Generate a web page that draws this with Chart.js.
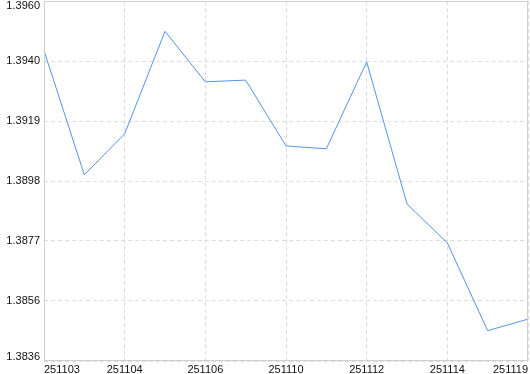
<!DOCTYPE html>
<html>
<head>
<meta charset="utf-8">
<script src="https://cdn.jsdelivr.net/npm/chart.js@4.4.1/dist/chart.umd.min.js"></script>
<style>
  html, body { margin: 0; padding: 0; background: #fff; }
  #wrap { width: 530px; height: 374px; }
</style>
</head>
<body>
<div id="wrap"><canvas id="lineChart" width="530" height="374"></canvas></div>
<script>
// Dates on the x axis (only every other one is labelled)
const dates = ['251103', '251103', '251104', '251105', '251106', '251107', '251110',
               '251111', '251112', '251113', '251114', '251117', '251119'];

// Values
const values = [1.39431, 1.39001, 1.39143, 1.39498, 1.39323, 1.39329, 1.39101,
                1.39091, 1.39392, 1.38900, 1.38765, 1.38461, 1.38501];

// Y axis range, split into 6 equal steps
const yMin = 1.38356;
const yMax = 1.39603;
const ySteps = 6;

const gridColor = '#dcdcdc';
const frameColor = '#cfcfcf';

// Solid frame round the plot area
const framePlugin = {
    id: 'frame',
    afterDraw(chart) {
        const a = chart.chartArea;
        const ctx = chart.ctx;
        ctx.save();
        ctx.strokeStyle = frameColor;
        ctx.lineWidth = 1;
        ctx.strokeRect(Math.round(a.left) + 0.5, Math.round(a.top) + 0.5,
                       Math.round(a.right - a.left) - 1, Math.round(a.bottom - a.top) - 1);
        ctx.restore();
    }
};

// Keep the first and last y labels inside the plot height
const innerYLabels = {
    id: 'innerYLabels',
    afterLayout(chart) {
        const items = chart.scales.y.getLabelItems(chart.chartArea);
        if (!items.length) return;
        items[0].options.translation[1] -= 4;
        items[items.length - 1].options.translation[1] += 5;
    }
};

const ctx = document.getElementById('lineChart').getContext('2d');
const lineChart = new Chart(ctx, {
    type: 'line',
    data: {
        labels: dates,
        datasets: [{
            data: values,
            borderColor: 'rgb(84, 148, 228)',
            borderWidth: 1,
            pointRadius: 0,
            tension: 0,
            fill: false
        }]
    },
    options: {
        responsive: false,
        animation: false,
        layout: { padding: { top: 1, right: 2, left: 0, bottom: 0 } },
        plugins: {
            legend: { display: false },
            tooltip: { enabled: false }
        },
        scales: {
            x: {
                offset: false,
                border: { display: false, dash: [4, 3] },
                grid: {
                    color: gridColor,
                    drawTicks: false
                },
                ticks: {
                    autoSkip: false,
                    maxRotation: 0,
                    align: 'inner',
                    padding: 2,
                    color: '#111',
                    font: { family: 'Liberation Sans', size: 11 },
                    callback: function (v, i) {
                        return i % 2 === 0 ? this.getLabelForValue(v) : null;
                    }
                },
                afterFit: function (scale) {
                    scale.height = 13;
                    scale.paddingLeft = 0;
                    scale.paddingRight = 0;
                }
            },
            y: {
                min: yMin,
                max: yMax,
                border: { display: false, dash: [4, 3] },
                grid: {
                    color: gridColor,
                    drawTicks: false
                },
                afterBuildTicks: function (scale) {
                    const ticks = [];
                    for (let i = 0; i <= ySteps; i++) {
                        ticks.push({ value: yMin + (yMax - yMin) * i / ySteps });
                    }
                    scale.ticks = ticks;
                },
                ticks: {
                    padding: 4,
                    color: '#111',
                    font: { family: 'Liberation Sans', size: 11 },
                    callback: function (v) { return v.toFixed(4); }
                },
                afterFit: function (scale) {
                    scale.width = 44;
                    scale.paddingTop = 0;
                    scale.paddingBottom = 0;
                }
            }
        }
    },
    plugins: [framePlugin, innerYLabels]
});
</script>
</body>
</html>
